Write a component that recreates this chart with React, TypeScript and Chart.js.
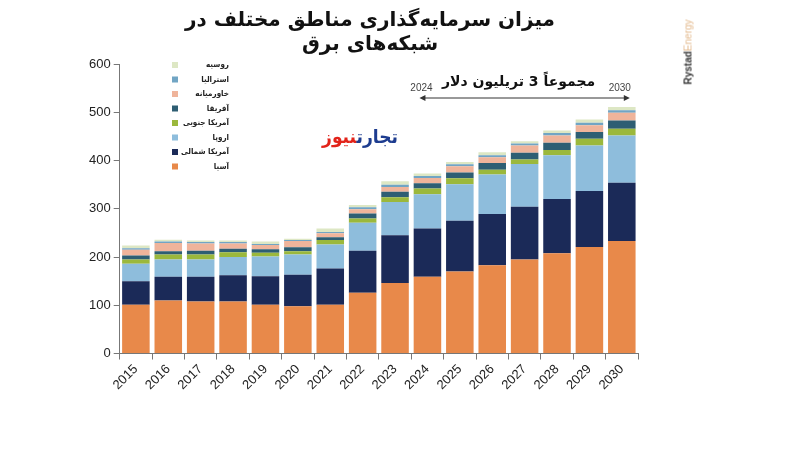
import React, { useEffect, useRef } from "react";
import { Chart, registerables } from "chart.js";

Chart.register(...registerables);

const years = ["2015", "2016", "2017", "2018", "2019", "2020", "2021", "2022", "2023", "2024", "2025", "2026", "2027", "2028", "2029", "2030"];
const yTicks = [0, 100, 200, 300, 400, 500, 600];

const asia = [101, 110, 108, 108, 101, 98, 101, 126, 146, 159, 170, 183, 195, 208, 221, 233];
const northAmerica = [49, 49, 51, 54, 59, 65, 75, 87, 99, 100, 105, 106, 109, 112, 116, 121];
const europe = [36, 36, 36, 38, 41, 42, 50, 58, 69, 71, 76, 82, 89, 91, 94, 98];
const southAmerica = [9, 10, 10, 10, 8, 7, 9, 9, 10, 12, 12, 10, 9, 11, 14, 14];
const africa = [8, 7, 8, 7, 7, 8, 6, 10, 11, 11, 12, 14, 14, 15, 14, 17];
const middleEast = [12, 17, 15, 11, 9, 13, 8, 9, 10, 11, 13, 12, 15, 15, 14, 16];
const australia = [3, 3, 3, 3, 2, 2, 3, 4, 5, 4, 4, 4, 4, 5, 5, 5];
const russia = [6, 4, 3, 3, 5, 3, 7, 5, 7, 5, 5, 6, 5, 5, 7, 7];

const seriesNames = ["آسیا", "آمریکا شمالی", "اروپا", "آمریکا جنوبی", "آفریقا", "خاورمیانه", "استرالیا", "روسیه"];
const seriesValues = [asia, northAmerica, europe, southAmerica, africa, middleEast, australia, russia];
const seriesColors = ["#E8894A", "#1B2A58", "#8EBDDC", "#9BB83C", "#2E5E73", "#EFB49B", "#71A5C4", "#DDE7C4"];

const titleLines = ["میزان سرمایه‌گذاری مناطق مختلف در", "شبکه‌های برق"];
const annotationText = "مجموعاً 3 تریلیون دلار";
const rangeStart = "2024";
const rangeEnd = "2030";

const overlayPlugin = {
  id: "overlay",
  afterDraw(chart: any) {
    const ctx = chart.ctx as CanvasRenderingContext2D;
    ctx.save();
    // legend (reversed order)
    const ds = chart.data.datasets;
    const n = ds.length;
    for (let i = 0; i < n; i++) {
      const d = ds[n - 1 - i];
      const y = 65 + i * 14.5;
      ctx.fillStyle = d.backgroundColor;
      ctx.fillRect(172, y - 3, 6, 6);
      ctx.fillStyle = "#222";
      ctx.font = 'bold 8px "DejaVu Sans Condensed", "DejaVu Sans"';
      ctx.textAlign = "right";
      ctx.textBaseline = "middle";
      (ctx as any).direction = "rtl";
      ctx.fillText(d.label, 229, y);
    }
    // range arrow
    const xs = chart.scales.x;
    const i1 = years.indexOf(rangeStart);
    const i2 = years.indexOf(rangeEnd);
    const x1 = xs.getPixelForValue(i1) - 8;
    const x2 = xs.getPixelForValue(i2) + 8;
    const ay = 98;
    ctx.strokeStyle = "#333";
    ctx.fillStyle = "#333";
    ctx.lineWidth = 1;
    ctx.beginPath();
    ctx.moveTo(x1 + 3, ay);
    ctx.lineTo(x2 - 3, ay);
    ctx.stroke();
    ctx.beginPath();
    ctx.moveTo(x1, ay);
    ctx.lineTo(x1 + 6, ay - 3);
    ctx.lineTo(x1 + 6, ay + 3);
    ctx.closePath();
    ctx.fill();
    ctx.beginPath();
    ctx.moveTo(x2, ay);
    ctx.lineTo(x2 - 6, ay - 3);
    ctx.lineTo(x2 - 6, ay + 3);
    ctx.closePath();
    ctx.fill();
    (ctx as any).direction = "ltr";
    ctx.font = '10px "Liberation Sans"';
    ctx.fillStyle = "#444";
    ctx.textAlign = "center";
    ctx.textBaseline = "middle";
    ctx.fillText(rangeStart, x1 + 2, 88);
    ctx.fillText(rangeEnd, x2 - 10, 88);
    (ctx as any).direction = "rtl";
    ctx.font = 'bold 14px "DejaVu Sans"';
    ctx.fillStyle = "#111";
    ctx.fillText(annotationText, (x1 + x2) / 2 - 6, 82);
    ctx.restore();
  },
};

export default function App() {
  const ref = useRef<HTMLCanvasElement | null>(null);
  useEffect(() => {
    if (!ref.current) return;
    const chart = new Chart(ref.current, {
      type: "bar",
      data: {
        labels: years,
        datasets: seriesNames.map((name, i) => ({
          label: name,
          data: seriesValues[i],
          backgroundColor: seriesColors[i],
          borderWidth: 0,
          barPercentage: 0.85,
          categoryPercentage: 1,
        })),
      },
      options: {
        responsive: false,
        animation: false,
        devicePixelRatio: 1,
        layout: { padding: { top: 64, left: 86, right: 162, bottom: 55 } },
        plugins: { legend: { display: false }, title: { display: false }, tooltip: { enabled: false } },
        scales: {
          x: {
            stacked: true,
            grid: { drawOnChartArea: false, drawTicks: true, tickLength: 6, color: "#777" },
            border: { color: "#777" },
            ticks: { maxRotation: 45, minRotation: 45, color: "#222", font: { family: "Liberation Sans", size: 13 }, padding: 2 },
          },
          y: {
            stacked: true,
            min: yTicks[0],
            max: yTicks[yTicks.length - 1],
            grid: { drawOnChartArea: false, drawTicks: true, tickLength: 6, color: "#777" },
            border: { color: "#777" },
            afterBuildTicks: (axis: any) => {
              axis.ticks = yTicks.map((v) => ({ value: v }));
            },
            ticks: { color: "#222", font: { family: "Liberation Sans", size: 13 }, padding: 3 },
          },
        },
      },
      plugins: [overlayPlugin],
    });
    return () => chart.destroy();
  }, []);
  return (
    <div style={{ position: "fixed", left: 0, top: 0, width: 800, height: 450, background: "#fff", overflow: "hidden" }}>
      <canvas ref={ref} width={800} height={450} style={{ position: "absolute", left: 0, top: 0 }} />
      <div
        dir="rtl"
        style={{
          position: "absolute",
          left: 170,
          width: 400,
          top: 7,
          textAlign: "center",
          fontFamily: '"DejaVu Sans"',
          fontWeight: "bold",
          fontSize: 20,
          lineHeight: "24px",
          color: "#111",
        }}
      >
        {titleLines.map((t, i) => (
          <div key={i}>{t}</div>
        ))}
      </div>
      <div
        dir="rtl"
        style={{
          position: "absolute",
          left: 300,
          width: 98,
          top: 123,
          textAlign: "right",
          fontFamily: '"DejaVu Sans Condensed", "DejaVu Sans"',
          fontWeight: "bold",
          fontSize: 19,
          lineHeight: "26px",
          whiteSpace: "nowrap",
        }}
      >
        <span style={{ color: "#1D3C8F" }}>تجارت</span>
        <span style={{ color: "#E2231A" }}>نیوز</span>
      </div>
      <div
        style={{
          position: "absolute",
          left: 688,
          top: 52,
          transform: "translate(-50%, -50%) rotate(-90deg)",
          fontFamily: '"Liberation Sans"',
          fontSize: 10,
          whiteSpace: "nowrap",
        }}
      >
        <span style={{ color: "#333", fontWeight: "bold" }}>Rystad</span>
        <span style={{ color: "#E3B98C" }}>Energy</span>
      </div>
    </div>
  );
}
